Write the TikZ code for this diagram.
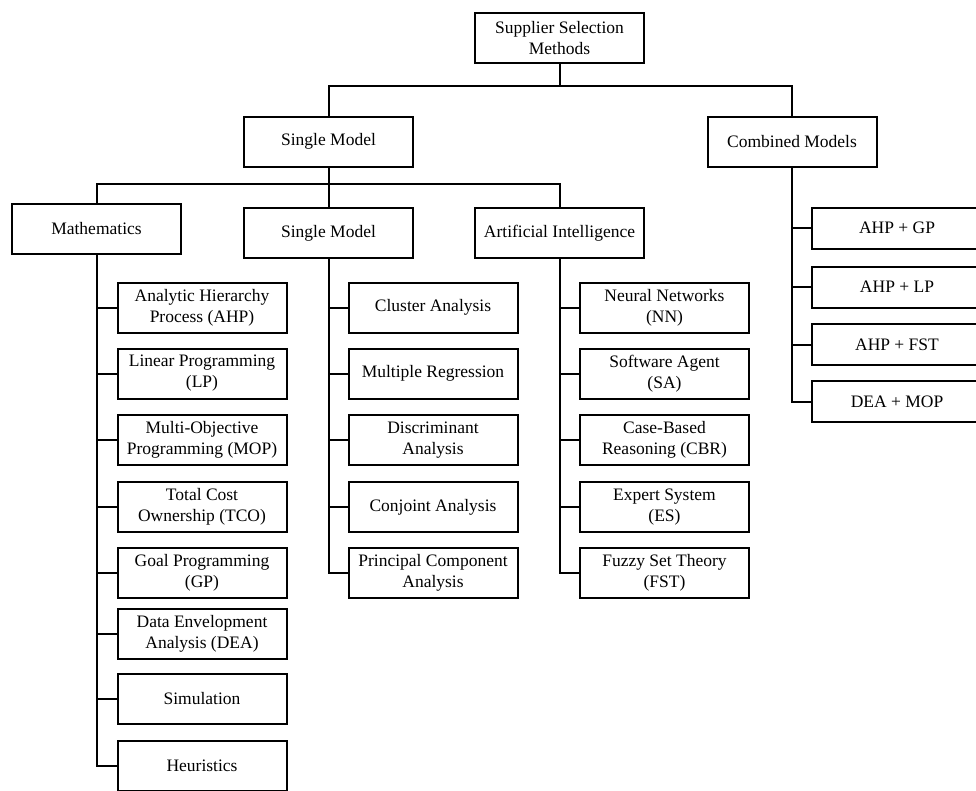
\documentclass[tikz,border=0pt]{standalone}
\usepackage{fontspec}
\setmainfont{Liberation Serif}
\usepackage{tikz}
\usetikzlibrary{positioning}
\tikzstyle{line} = [draw, line width=2pt]
\tikzstyle{block} = [rectangle, draw, line width=2pt, align=center, inner sep=0pt, minimum width=169pt, minimum height=50pt, font=\fontsize{17.5}{21}\selectfont]
\tikzstyle{combo} = [block, minimum width=170pt, minimum height=41pt]

\begin{document}
\begin{tikzpicture}[x=1pt, y=-1pt]
	\useasboundingbox (0,0) rectangle (976,790);
	\node [block] (ssm) at (559.5,38) {Supplier Selection\\Methods};
	\node [block] (single) at (328.5,141.5) {Single Model};
	\node [block] (combined) at (792,141.5) {Combined Models};
	\node [block] (math) at (96.5,228.5) {Mathematics};
	\node [block] (singleb) at (328.5,233) {Single Model};
	\node [block] (ai) at (559.5,233) {Artificial Intelligence};
	\node [block] (ahp) at (202,307.5) {Analytic Hierarchy\\Process (AHP)};
	\node [block] (lp) at (202,373.5) {Linear Programming\\(LP)};
	\node [block] (mop) at (202,440) {Multi-Objective\\Programming (MOP)};
	\node [block] (tco) at (202,507) {Total Cost\\Ownership (TCO)};
	\node [block] (gp) at (202,573) {Goal Programming\\(GP)};
	\node [block] (dea) at (202,633.5) {Data Envelopment\\Analysis (DEA)};
	\node [block] (sim) at (202,699) {Simulation};
	\node [block] (heur) at (202,765.5) {Heuristics};
	\node [block] (cluster) at (433,307.5) {Cluster Analysis};
	\node [block] (mreg) at (433,373.5) {Multiple Regression};
	\node [block] (discr) at (433,440) {Discriminant\\Analysis};
	\node [block] (conj) at (433,507) {Conjoint Analysis};
	\node [block] (pca) at (433,573) {Principal Component\\Analysis};
	\node [block] (nn) at (664.5,307.5) {Neural Networks\\(NN)};
	\node [block] (sa) at (664.5,373.5) {Software Agent\\(SA)};
	\node [block] (cbr) at (664.5,440) {Case-Based\\Reasoning (CBR)};
	\node [block] (es) at (664.5,507) {Expert System\\(ES)};
	\node [block] (fst) at (664.5,573) {Fuzzy Set Theory\\(FST)};
	\node [combo] (ahpgp) at (897,228) {AHP + GP};
	\node [combo] (ahplp) at (897,287) {AHP + LP};
	\node [combo] (ahpfst) at (897,344.5) {AHP + FST};
	\node [combo] (deamop) at (897,401.5) {DEA + MOP};
	\path [line] (ssm.south) -- ++(0,22) -| (single.north);
	\path [line] (ssm.south) -- ++(0,22) -| (combined.north);
	\path [line] (single.south) -- (singleb.north);
	\path [line] (single.south) -- ++(0,16) -| (math.north);
	\path [line] (single.south) -- ++(0,16) -| (ai.north);
	\foreach \n in {ahp,lp,mop,tco,gp,dea,sim,heur}
		\path [line] (math.south) |- (\n.west);
	\foreach \n in {cluster,mreg,discr,conj,pca}
		\path [line] (singleb.south) |- (\n.west);
	\foreach \n in {nn,sa,cbr,es,fst}
		\path [line] (ai.south) |- (\n.west);
	\foreach \n in {ahpgp,ahplp,ahpfst,deamop}
		\path [line] (combined.south) |- (\n.west);
\end{tikzpicture}
\end{document}
